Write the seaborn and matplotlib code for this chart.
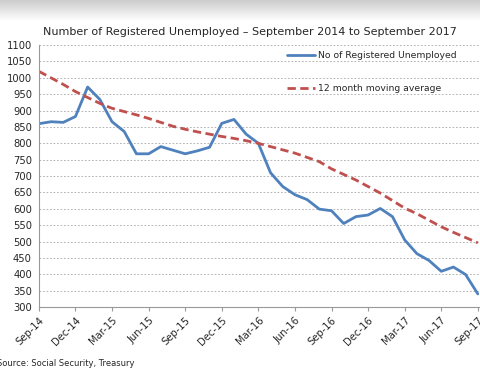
import numpy as np
import pandas as pd
import matplotlib
matplotlib.use("Agg")
import matplotlib.pyplot as plt
import seaborn as sns

# monthly data, Sep-14 .. Sep-17
months = pd.date_range("2014-09-01", "2017-09-01", freq="MS").strftime("%b-%y").tolist()
registered = [860, 866, 864, 882, 972, 934, 866, 836, 768, 768,
              790, 779, 768, 777, 788, 861, 873, 828, 800, 710,
              668, 643, 628, 599, 594, 555, 576, 581, 601, 576,
              505, 463, 442, 409, 422, 399, 340]
moving_avg = [1020, 1000, 980, 958, 940, 922, 907, 897, 887, 876,
              864, 852, 843, 835, 828, 821, 815, 808, 800, 790,
              780, 770, 757, 744, 722, 705, 688, 668, 648, 625,
              602, 585, 565, 545, 528, 512, 496]

df = pd.DataFrame({"idx": range(len(months)), "month": months,
                   "No of Registered Unemployed": registered,
                   "12 month moving average": moving_avg})

sns.set_style("white")
plt.rcParams["font.family"] = ["DejaVu Sans"]

fig = plt.figure(figsize=(4.8, 3.73), dpi=100)

# grey band at top of the screenshot
band = fig.add_axes([0, 0.945, 1, 0.055])
band.imshow(np.linspace(0.80, 1.0, 50).reshape(-1, 1), cmap="gray", vmin=0, vmax=1,
            aspect="auto", extent=[0, 1, 0, 1])
band.axis("off")

ax = fig.add_axes([0.081, 0.177, 0.917, 0.702])
sns.lineplot(data=df, x="idx", y="No of Registered Unemployed", ax=ax,
             color="#4F81BD", linewidth=2.0, label="No of Registered Unemployed")
sns.lineplot(data=df, x="idx", y="12 month moving average", ax=ax,
             color="#C0504D", linewidth=2.0, linestyle=(0, (3, 1.6)),
             label="12 month moving average")

ax.set_xlim(0, 36.1)
ax.set_ylim(300, 1100)
ax.set_yticks(range(300, 1101, 50))
ax.set_xticks(range(0, 37, 3))
ax.set_xticklabels(months[::3], rotation=45, ha="right", rotation_mode="anchor", fontsize=7.2)
ax.tick_params(axis="y", labelsize=7.2, length=3, color="#999999", pad=2)
ax.tick_params(axis="x", length=3, color="#999999", pad=3, bottom=True)
ax.set_xlabel("")
ax.set_ylabel("")
ax.grid(axis="y", color="#b5b5b5", linestyle=(0, (1.8, 1.8)), linewidth=0.7)
for s in ["top", "right"]:
    ax.spines[s].set_visible(False)
for s in ["left", "bottom"]:
    ax.spines[s].set_color("#999999")
    ax.spines[s].set_linewidth(0.8)

ax.legend(loc="upper left", bbox_to_anchor=(0.545, 1.01), frameon=False, fontsize=6.7,
          handlelength=3.0, handletextpad=0.3, labelspacing=2.6)

fig.text(0.52, 0.915, "Number of Registered Unemployed \u2013 September 2014 to September 2017",
         ha="center", va="center", fontsize=8.0)
fig.text(-0.006, 0.025, "Source: Social Security, Treasury", ha="left", va="center", fontsize=6.0)

fig.savefig("out.png", dpi=100)
